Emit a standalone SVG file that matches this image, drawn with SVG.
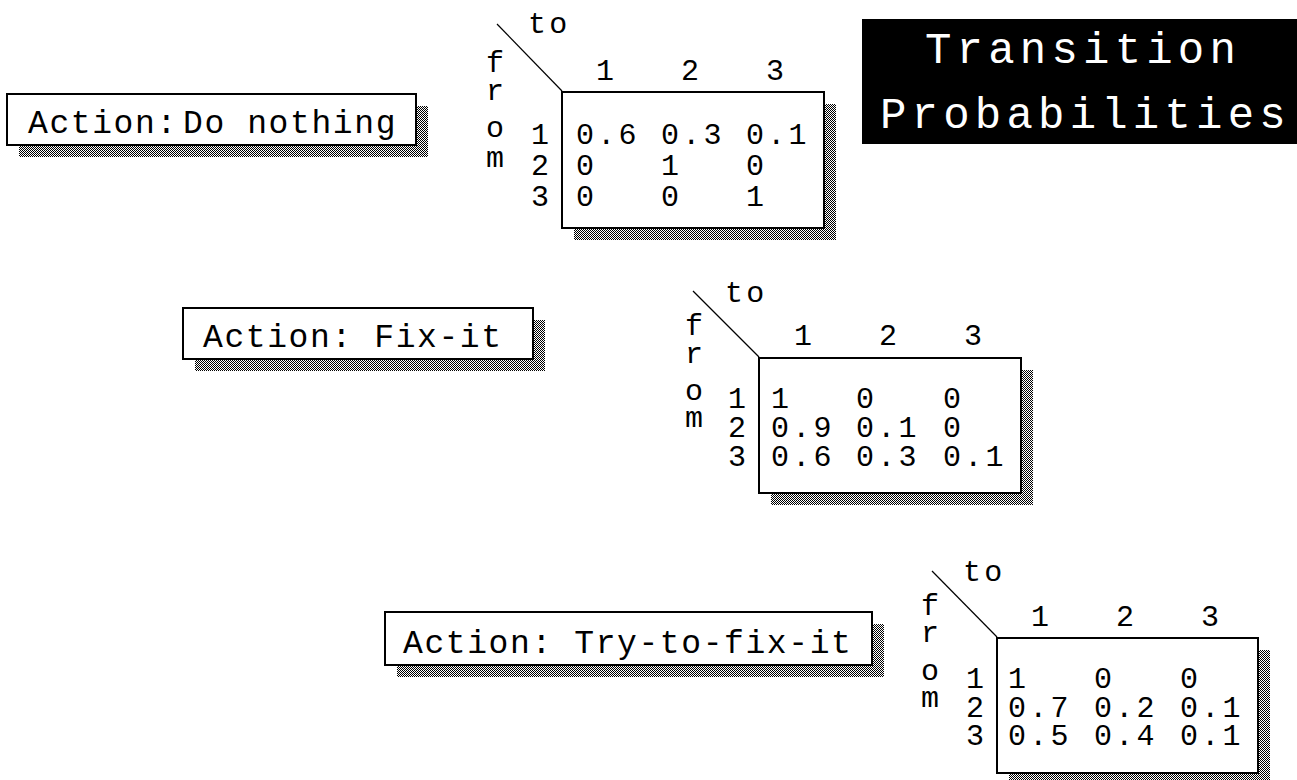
<svg xmlns="http://www.w3.org/2000/svg" width="1297" height="780" viewBox="0 0 1297 780">
  <defs>
    <!-- 50% dither used for drop shadows -->
    <pattern id="dither" width="2" height="2" patternUnits="userSpaceOnUse">
      <rect x="0" y="0" width="1" height="1" fill="#000"/>
      <rect x="1" y="1" width="1" height="1" fill="#000"/>
    </pattern>
  </defs>
  <style>
    text { font-family: "Liberation Mono", "DejaVu Sans Mono", monospace; fill: #000; }
    .lbl { font-size: 33px; letter-spacing: 1.6px; }
    .mx { font-size: 30px; letter-spacing: 3.2px; }
    .hd { font-size: 30px; text-anchor: middle; }
    .ttl { font-size: 44px; letter-spacing: 5.2px; fill: #fff; }
    .shadow { fill: url(#dither); }
    .box { fill: #fff; stroke: #000; stroke-width: 2; }
    .diag { stroke: #000; stroke-width: 1.2; }
  </style>

  <rect width="1297" height="780" fill="#fff"/>

  <!-- Title -->
  <g id="title">
    <rect x="862" y="19" width="440" height="125" fill="#000"/>
    <text class="ttl" x="925" y="63">Transition</text>
    <text class="ttl" x="880" y="128">Probabilities</text>
  </g>

  <!-- Action labels -->
  <g id="action-do-nothing">
    <rect class="shadow" x="19" y="106" width="409" height="51"/>
    <rect class="box" x="7" y="94" width="409" height="51"/>
    <text class="lbl" y="133"><tspan x="28">Action:</tspan><tspan x="183">Do nothing</tspan></text>
  </g>

  <g id="action-fix-it">
    <rect class="shadow" x="195" y="320" width="350" height="51"/>
    <rect class="box" x="183" y="308" width="350" height="51"/>
    <text class="lbl" x="203" y="347">Action: Fix-it</text>
  </g>

  <g id="action-try-to-fix-it">
    <rect class="shadow" x="397" y="624" width="487" height="53"/>
    <rect class="box" x="385" y="612" width="487" height="53"/>
    <text class="lbl" x="403" y="653">Action: Try-to-fix-it</text>
  </g>

  <!-- Matrix: Do nothing -->
  <g id="matrix-do-nothing">
    <line class="diag" x1="497" y1="24" x2="562" y2="91"/>
    <text class="mx" x="528" y="33">to</text>
    <text class="mx" x="486" y="72">f</text>
    <text class="mx" x="486" y="100">r</text>
    <text class="mx" x="486" y="137">o</text>
    <text class="mx" x="486" y="167">m</text>
    <text class="hd" x="605" y="80">1</text>
    <text class="hd" x="690" y="80">2</text>
    <text class="hd" x="775" y="80">3</text>
    <rect class="shadow" x="574" y="104" width="262" height="136"/>
    <rect class="box" x="562" y="92" width="262" height="136"/>
    <text class="hd" x="540" y="144">1</text>
    <text class="hd" x="540" y="175">2</text>
    <text class="hd" x="540" y="206">3</text>
    <text class="mx" x="576" y="144">0.6</text>
    <text class="mx" x="661" y="144">0.3</text>
    <text class="mx" x="746" y="144">0.1</text>
    <text class="mx" x="576" y="175">0</text>
    <text class="mx" x="661" y="175">1</text>
    <text class="mx" x="746" y="175">0</text>
    <text class="mx" x="576" y="206">0</text>
    <text class="mx" x="661" y="206">0</text>
    <text class="mx" x="746" y="206">1</text>
  </g>

  <!-- Matrix: Fix-it -->
  <g id="matrix-fix-it">
    <line class="diag" x1="693" y1="291" x2="759" y2="357"/>
    <text class="mx" x="725" y="302">to</text>
    <text class="mx" x="685" y="335">f</text>
    <text class="mx" x="685" y="363">r</text>
    <text class="mx" x="685" y="400">o</text>
    <text class="mx" x="685" y="427">m</text>
    <text class="hd" x="803" y="345">1</text>
    <text class="hd" x="888" y="345">2</text>
    <text class="hd" x="973" y="345">3</text>
    <rect class="shadow" x="771" y="370" width="262" height="135"/>
    <rect class="box" x="759" y="358" width="262" height="135"/>
    <text class="hd" x="737" y="408">1</text>
    <text class="hd" x="737" y="437">2</text>
    <text class="hd" x="737" y="466">3</text>
    <text class="mx" x="771" y="408">1</text>
    <text class="mx" x="856" y="408">0</text>
    <text class="mx" x="943" y="408">0</text>
    <text class="mx" x="771" y="437">0.9</text>
    <text class="mx" x="856" y="437">0.1</text>
    <text class="mx" x="943" y="437">0</text>
    <text class="mx" x="771" y="466">0.6</text>
    <text class="mx" x="856" y="466">0.3</text>
    <text class="mx" x="943" y="466">0.1</text>
  </g>

  <!-- Matrix: Try-to-fix-it -->
  <g id="matrix-try-to-fix-it">
    <line class="diag" x1="932" y1="571" x2="997" y2="637"/>
    <text class="mx" x="963" y="581">to</text>
    <text class="mx" x="921" y="615">f</text>
    <text class="mx" x="921" y="642">r</text>
    <text class="mx" x="921" y="680">o</text>
    <text class="mx" x="921" y="707">m</text>
    <text class="hd" x="1040" y="626">1</text>
    <text class="hd" x="1125" y="626">2</text>
    <text class="hd" x="1210" y="626">3</text>
    <rect class="shadow" x="1009" y="650" width="261" height="135"/>
    <rect class="box" x="997" y="638" width="261" height="135"/>
    <text class="hd" x="975" y="688">1</text>
    <text class="hd" x="975" y="717">2</text>
    <text class="hd" x="975" y="745">3</text>
    <text class="mx" x="1008" y="688">1</text>
    <text class="mx" x="1094" y="688">0</text>
    <text class="mx" x="1180" y="688">0</text>
    <text class="mx" x="1008" y="717">0.7</text>
    <text class="mx" x="1094" y="717">0.2</text>
    <text class="mx" x="1180" y="717">0.1</text>
    <text class="mx" x="1008" y="745">0.5</text>
    <text class="mx" x="1094" y="745">0.4</text>
    <text class="mx" x="1180" y="745">0.1</text>
  </g>
</svg>
